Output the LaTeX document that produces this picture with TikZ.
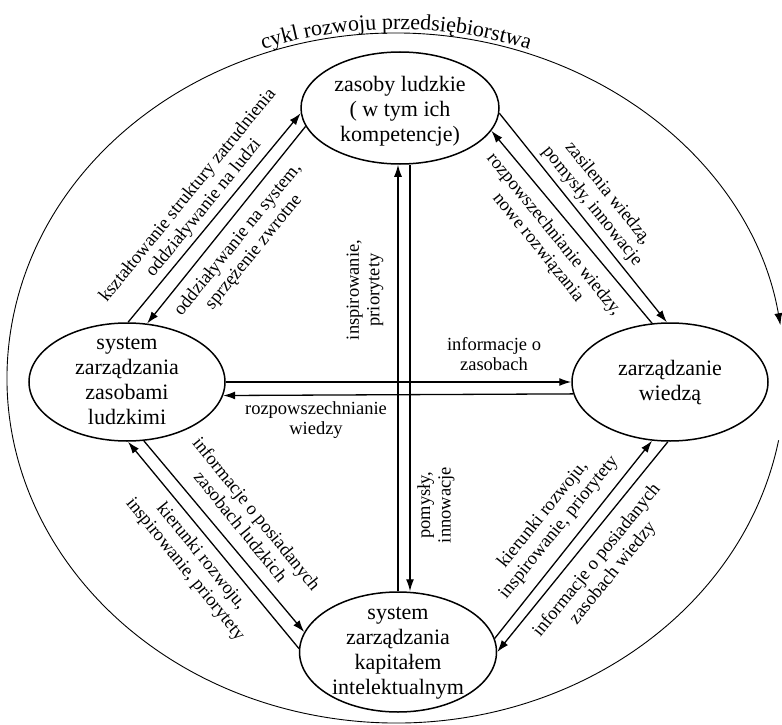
\documentclass[tikz,border=0pt]{standalone}
\usepackage{fontspec}
\setmainfont{Liberation Serif}
\usetikzlibrary{shapes.geometric,arrows.meta,decorations.text}
\begin{document}
\begin{tikzpicture}[x=1pt,y=-1pt,
  ell/.style={draw, ellipse, line width=1.5pt, inner sep=0pt},
  ntxt/.style={align=center, font=\fontsize{22}{25}\selectfont, inner sep=0pt},
  lab/.style={align=center, font=\fontsize{18.5}{20.5}\selectfont, inner sep=0pt},
  con/.style={line width=1.3pt, -{Latex[length=12pt,width=8pt]}},
  outer/.style={line width=0.9pt, -{Latex[length=12pt,width=8pt]}}
]
\useasboundingbox (0,0) rectangle (782,725);
\fill[white] (0,0) rectangle (782,725);

% outer cycle
\coordinate (O) at (396,378);
\draw[outer] ([shift={(-10.4:389pt and 345pt)}]O) arc[start angle=-10.4, end angle=-351.2, x radius=389pt, y radius=345pt];
\path[decorate, decoration={text along path, text align=center,
  text={|\fontsize{22}{22}\selectfont|cykl rozwoju przedsiębiorstwa}}]
  ([shift={(130:393pt and 349pt)}]O) arc[start angle=130, end angle=50, x radius=393pt, y radius=349pt];

% nodes
\node[ell, minimum width=198pt, minimum height=112pt] (zl) at (400,108) {};
\node[ntxt] (zlt) at (400,111) {zasoby ludzkie\\(\ w tym ich\\kompetencje)};
\node[ell, minimum width=196pt, minimum height=118pt] (sz) at (127,382) {};
\node[ntxt] (szt) at (127,381) {system\\zarządzania\\zasobami\\ludzkimi};
\node[ell, minimum width=196pt, minimum height=118pt] (zw) at (670,382) {};
\node[ntxt] (zwt) at (670,383) {zarządzanie\\wiedzą};
\node[ell, minimum width=197pt, minimum height=120pt] (sk) at (398,652) {};
\node[ntxt] (skt) at (398,653) {system\\zarządzania\\kapitałem\\intelektualnym};

% diagonal connectors
\draw[con] (sz.89) -- (zl.183);
\draw[con] (zl.191.5) -- (sz.71.6);
\draw[con] (zl.357) -- (zw.93);
\draw[con] (zw.107) -- (zl.346.7);
\draw[con] (sz.286.7) -- (sk.168.7);
\draw[con] (sk.178.9) -- (sz.271);
\draw[con] (sk.8.4) -- (zw.253.3);
\draw[con] (zw.268.1) -- (sk.0);

% vertical connectors
\coordinate (vA) at (398,0);
\coordinate (vB) at (410,0);
\draw[con] (sk.north -| vA) -- (zl.south -| vA);
\draw[con] (zl.south -| vB) -- (sk.north -| vB);

% horizontal connectors
\draw[con] (sz.east) -- (zw.west);
\draw[con] (zw.187.1) -- (sz.352.9);

% labels
\node[lab, rotate=51] (l1) at (196,202) {kształtowanie struktury zatrudnienia\\oddziaływanie na ludzi};
\node[lab, rotate=51] (l2) at (246,246) {oddziaływanie na system,\\sprzężenie zwrotne};
\node[lab, rotate=-51] (l3) at (600,200) {zasilenia wiedzą,\\pomysły, innowacje};
\node[lab, rotate=-51] (l4) at (546,241) {rozpowszechnianie wiedzy,\\nowe rozwiązania};
\node[lab, rotate=-51] (l5) at (249,520) {informacje o posiadanych\\zasobach ludzkich};
\node[lab, rotate=-51] (l6) at (193,563) {kierunki rozwoju,\\inspirowanie, priorytety};
\node[lab, rotate=51] (l7) at (551,521) {kierunki rozwoju,\\inspirowanie, priorytety};
\node[lab, rotate=51] (l8) at (605,567) {informacje o posiadanych\\zasobach wiedzy};
\node[lab, rotate=90] (l9) at (365,290) {inspirowanie,\\priorytety};
\node[lab, rotate=90] (l10) at (436,505) {pomysły,\\innowacje};
\node[lab] (l11) at (494,354) {informacje o\\zasobach};
\node[lab] (l12) at (316,420) {rozpowszechnianie\\wiedzy};
\end{tikzpicture}
\end{document}
